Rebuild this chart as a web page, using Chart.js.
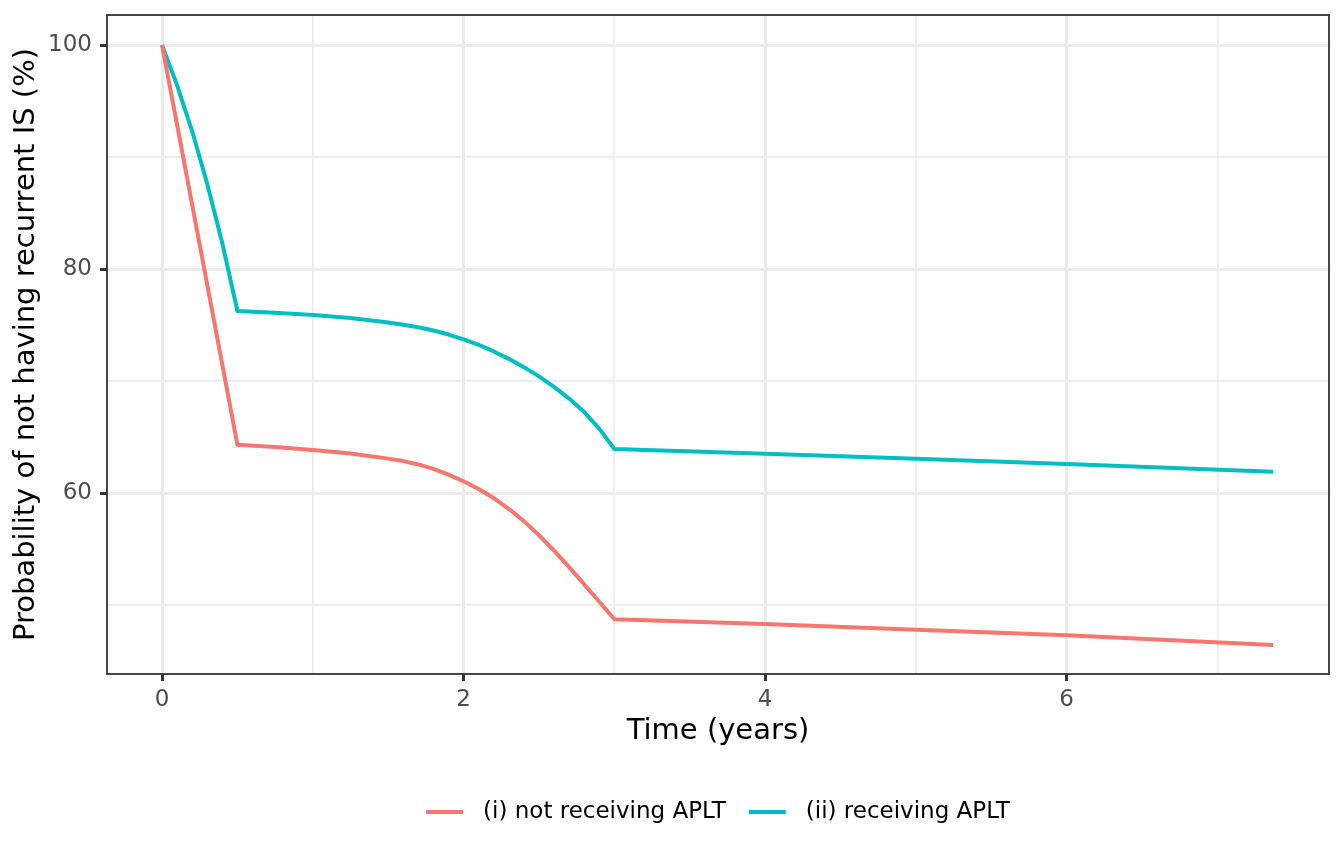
<!DOCTYPE html>
<html>
<head>
<meta charset="utf-8">
<script src="https://cdn.jsdelivr.net/npm/chart.js@4.4.1/dist/chart.umd.min.js"></script>
<style>
  html, body { margin: 0; padding: 0; background: #ffffff; }
  #wrap { width: 1344px; height: 864px; position: relative; }
</style>
</head>
<body>
<div id="wrap"><canvas id="c"></canvas></div>
<script>
// ---- data ----
const seriesLabels = ['(i) not receiving APLT', '(ii) receiving APLT'];
const seriesColors = ['#F8766D', '#00BFC4'];
const timeYears = [0, 0.1, 0.2, 0.3, 0.4, 0.5, 0.75, 1.0, 1.25, 1.5, 1.6, 1.7, 1.8, 1.9, 2.0, 2.1, 2.2, 2.3, 2.4, 2.5, 2.6, 2.7, 2.8, 2.9, 3.0, 4, 5, 6, 7.37];
const notReceiving = [100, 92.86, 85.72, 78.58, 71.44, 64.3, 64.1, 63.84, 63.52, 63.07, 62.85, 62.55, 62.15, 61.64, 61.05, 60.35, 59.55, 58.59, 57.49, 56.24, 54.86, 53.38, 51.84, 50.29, 48.73, 48.3, 47.8, 47.3, 46.43];
const receiving = [100, 96.4, 92.3, 87.6, 82.3, 76.25, 76.1, 75.9, 75.62, 75.22, 75.03, 74.80, 74.51, 74.15, 73.72, 73.22, 72.64, 71.98, 71.24, 70.41, 69.48, 68.43, 67.23, 65.75, 63.93, 63.5, 63.05, 62.6, 61.9];
const xTicks = [0, 1, 2, 3, 4, 5, 6, 7];
const xTickLabels = ['0', '', '2', '', '4', '', '6', ''];
const yTicks = [50, 60, 70, 80, 90, 100];
const yTickLabels = ['', '60', '', '80', '', '100'];
const xTitle = 'Time (years)';
const yTitle = 'Probability of not having recurrent IS (%)';

const FONT = 'DejaVu Sans';
const toXY = (xs, ys) => xs.map((x, i) => ({ x: x, y: ys[i] }));

const borderPlugin = {
  id: 'panelBorder',
  afterDatasetsDraw(chart) {
    const { ctx, chartArea: a } = chart;
    ctx.save();
    ctx.strokeStyle = '#333333';
    ctx.lineWidth = 1.8;
    ctx.strokeRect(a.left, a.top, a.right - a.left, a.bottom - a.top);
    ctx.restore();
  }
};

const legendPlugin = {
  id: 'bottomLegend',
  afterDraw(chart) {
    const { ctx, chartArea: a } = chart;
    ctx.save();
    ctx.font = '23px "' + FONT + '"';
    const keyLen = 37, keyGap = 20, itemGap = 23;
    const widths = chart.data.datasets.map(d => ctx.measureText(d.label).width);
    let total = 0;
    widths.forEach((w, i) => { total += keyLen + keyGap + w + (i < widths.length - 1 ? itemGap : 0); });
    let x = (a.left + a.right) / 2 - total / 2;
    const y = 812;
    chart.data.datasets.forEach((d, i) => {
      ctx.strokeStyle = d.borderColor;
      ctx.lineWidth = 4;
      ctx.beginPath();
      ctx.moveTo(x, y);
      ctx.lineTo(x + keyLen, y);
      ctx.stroke();
      x += keyLen + keyGap;
      ctx.fillStyle = '#000000';
      ctx.textBaseline = 'middle';
      ctx.textAlign = 'left';
      ctx.fillText(d.label, x, y);
      x += widths[i] + itemGap;
    });
    ctx.restore();
  }
};

new Chart(document.getElementById('c'), {
  type: 'line',
  data: {
    datasets: [
      { label: seriesLabels[0], data: toXY(timeYears, notReceiving), borderColor: seriesColors[0], backgroundColor: seriesColors[0], borderWidth: 4, pointRadius: 0, tension: 0, fill: false, borderJoinStyle: 'round' },
      { label: seriesLabels[1], data: toXY(timeYears, receiving), borderColor: seriesColors[1], backgroundColor: seriesColors[1], borderWidth: 4, pointRadius: 0, tension: 0, fill: false, borderJoinStyle: 'round' }
    ]
  },
  options: {
    responsive: true,
    maintainAspectRatio: false,
    animation: false,
    devicePixelRatio: 1,
    layout: { padding: { top: 15, right: 15, left: 0, bottom: 0 } },
    plugins: { legend: { display: false }, tooltip: { enabled: false } },
    scales: {
      x: {
        type: 'linear',
        min: -0.365,
        max: 7.74,
        afterBuildTicks: (s) => { s.ticks = xTicks.map(v => ({ value: v })); },
        afterFit: (s) => { s.height = 190; s.paddingLeft = 0; s.paddingRight = 0; },
        border: { display: false },
        grid: {
          color: '#ebebeb',
          lineWidth: (c) => (c.tick && c.tick.value % 2 === 0 ? 3 : 1.7),
          tickLength: 7,
          tickColor: (c) => (c.tick && c.tick.value % 2 === 0 ? '#333333' : 'rgba(0,0,0,0)'),
          tickWidth: 3
        },
        ticks: {
          autoSkip: false,
          maxRotation: 0,
          padding: 5,
          color: '#4d4d4d',
          font: { family: FONT, size: 23 },
          callback: (v) => { const i = xTicks.indexOf(v); return i >= 0 ? xTickLabels[i] : ''; }
        },
        title: {
          display: true,
          text: xTitle,
          color: '#000000',
          font: { family: FONT, size: 29 },
          padding: { top: 0, bottom: 115 }
        }
      },
      y: {
        type: 'linear',
        min: 43.84,
        max: 102.68,
        afterBuildTicks: (s) => { s.ticks = yTicks.map(v => ({ value: v })); },
        afterFit: (s) => { s.width = 107; s.paddingTop = 0; s.paddingBottom = 0; },
        border: { display: false },
        grid: {
          color: '#ebebeb',
          lineWidth: (c) => (c.tick && c.tick.value % 20 === 0 ? 3 : 1.7),
          tickLength: 7,
          tickColor: (c) => (c.tick && c.tick.value % 20 === 0 ? '#333333' : 'rgba(0,0,0,0)'),
          tickWidth: 3
        },
        ticks: {
          autoSkip: false,
          padding: 8,
          color: '#4d4d4d',
          font: { family: FONT, size: 23 },
          callback: (v) => { const i = yTicks.indexOf(v); return i >= 0 ? yTickLabels[i] : ''; }
        },
        title: {
          display: true,
          text: yTitle,
          color: '#000000',
          font: { family: FONT, size: 29 },
          padding: { top: 9, bottom: 0 }
        }
      }
    }
  },
  plugins: [borderPlugin, legendPlugin]
});
</script>
</body>
</html>
